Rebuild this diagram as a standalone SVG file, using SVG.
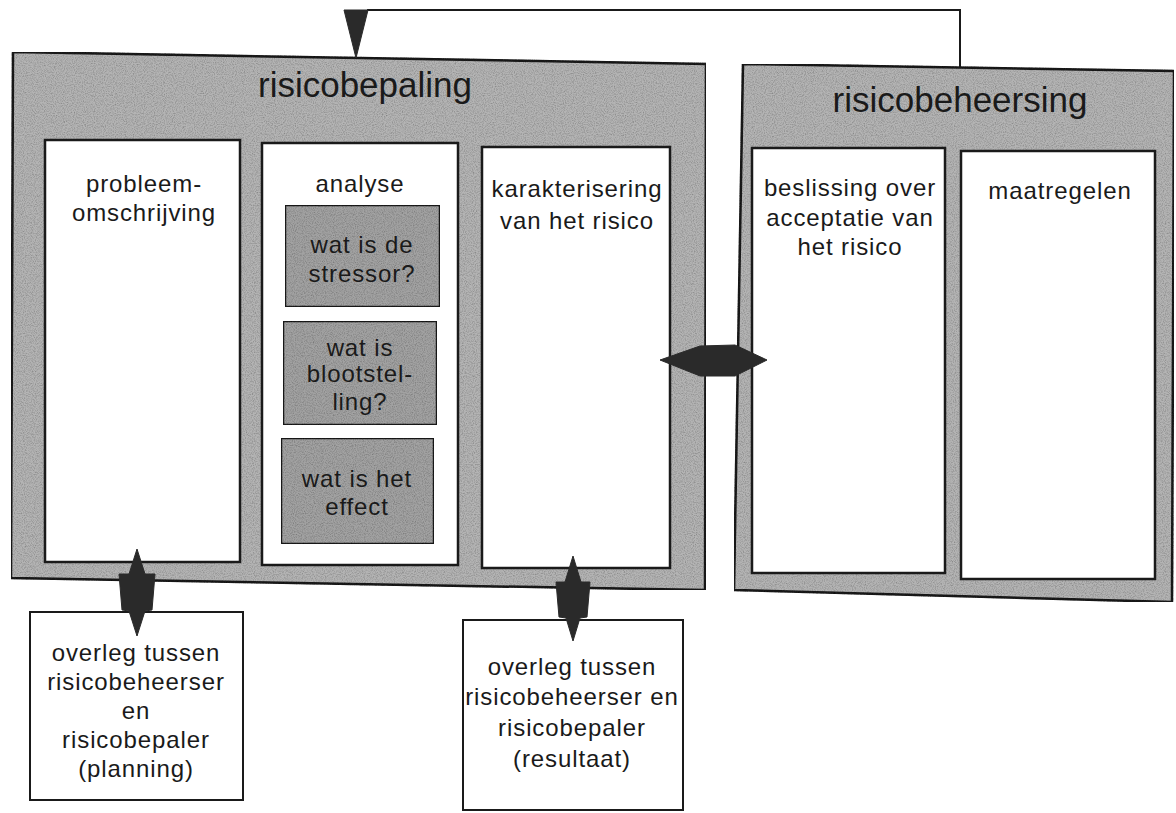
<svg xmlns="http://www.w3.org/2000/svg" width="1176" height="813" viewBox="0 0 1176 813">
<defs>
<filter id="grain" x="0" y="0" width="100%" height="100%">
<feTurbulence type="fractalNoise" baseFrequency="0.9" numOctaves="2" seed="3" result="n"/>
<feColorMatrix in="n" type="matrix" values="0 0 0 0 0  0 0 0 0 0  0 0 0 0 0  0 0 0 -0.9 0.55" result="a"/>
<feComposite in="a" in2="SourceGraphic" operator="in" result="m"/>
<feMerge><feMergeNode in="SourceGraphic"/><feMergeNode in="m"/></feMerge>
</filter>
</defs>
<style>
.outer{fill:#b4b4b4;stroke:#1a1a1a;stroke-width:2.5}
.inner{fill:#ffffff;stroke:#1a1a1a;stroke-width:2.5}
.sub{fill:#a2a2a2;stroke:#1a1a1a;stroke-width:2.5}
.box{fill:#ffffff;stroke:#1a1a1a;stroke-width:2}
text{font-family:"Liberation Sans",Arial,sans-serif;fill:#1a1a1a;text-anchor:middle}
.t{font-size:24px;letter-spacing:0.9px}
.h{font-size:35px}
.arrow{fill:#2a2a2a;stroke:#2a2a2a;stroke-width:1}
.line{fill:none;stroke:#1a1a1a;stroke-width:2}
</style>
<rect width="1176" height="813" fill="#ffffff"/>

<g id="risicobepaling">
<polygon class="outer" filter="url(#grain)" points="13,52 706,64 705,590 11,578"/>
<text class="h" x="365" y="97">risicobepaling</text>
</g>
<g id="probleemomschrijving">
<rect class="inner" x="45" y="140" width="195" height="422"/>
<text class="t" x="144" y="192">probleem-</text>
<text class="t" x="144" y="221">omschrijving</text>
</g>
<g id="analyse">
<rect class="inner" x="262" y="143" width="196" height="422"/>
<text class="t" x="360" y="192">analyse</text>
</g>
<g id="stressor">
<rect class="sub" filter="url(#grain)" x="285" y="205" width="155" height="102"/>
<text class="t" x="362" y="253">wat is de</text>
<text class="t" x="362" y="282">stressor?</text>
</g>
<g id="blootstelling">
<rect class="sub" filter="url(#grain)" x="283" y="321" width="154" height="104"/>
<text class="t" x="360" y="356">wat is</text>
<text class="t" x="360" y="382">blootstel-</text>
<text class="t" x="360" y="410">ling?</text>
</g>
<g id="effect">
<rect class="sub" filter="url(#grain)" x="281" y="438" width="153" height="106"/>
<text class="t" x="357" y="487">wat is het</text>
<text class="t" x="357" y="515">effect</text>
</g>
<g id="karakterisering">
<rect class="inner" x="482" y="147" width="188" height="421"/>
<text class="t" x="577" y="197">karakterisering</text>
<text class="t" x="577" y="229">van het risico</text>
</g>

<g id="risicobeheersing">
<polygon class="outer" filter="url(#grain)" points="743,64 1174,71 1172,602 734,590"/>
<text class="h" x="960" y="112">risicobeheersing</text>
</g>
<g id="beslissing">
<rect class="inner" x="752" y="148" width="193" height="425"/>
<text class="t" x="850" y="196">beslissing over</text>
<text class="t" x="850" y="226">acceptatie van</text>
<text class="t" x="850" y="255">het risico</text>
</g>
<g id="maatregelen">
<rect class="inner" x="961" y="151" width="194" height="428"/>
<text class="t" x="1060" y="199">maatregelen</text>
</g>

<g id="overleg-planning">
<rect class="box" x="30" y="612" width="213" height="188"/>
<text class="t" x="136" y="661">overleg tussen</text>
<text class="t" x="136" y="690">risicobeheerser</text>
<text class="t" x="136" y="719">en</text>
<text class="t" x="136" y="748">risicobepaler</text>
<text class="t" x="136" y="777">(planning)</text>
</g>
<g id="overleg-resultaat">
<rect class="box" x="463" y="620" width="220" height="190"/>
<text class="t" x="572" y="675">overleg tussen</text>
<text class="t" x="572" y="705">risicobeheerser en</text>
<text class="t" x="572" y="736">risicobepaler</text>
<text class="t" x="572" y="767">(resultaat)</text>
</g>

<g id="connectors">
<polyline class="line" points="960,68 960,10 367,10"/>
<polygon class="arrow" points="344,10 368,10 356,58"/>
<polygon class="arrow" points="660,360 700,346 735,345 767,360 735,376 700,376"/>
<polygon class="arrow" points="137,549 145,574 155,574 152,610 145,611 137,636 129,611 122,610 119,574 129,574"/>
<polygon class="arrow" points="573,556 581,582 590,582 587,617 580,618 573,641 566,618 559,617 556,582 565,582"/>
</g>
</svg>
